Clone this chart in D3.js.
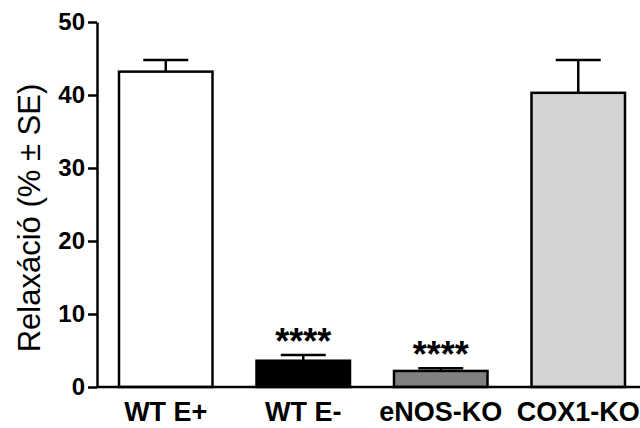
<!DOCTYPE html>
<html><head><meta charset="utf-8">
<script src="https://cdn.jsdelivr.net/npm/d3@7"></script>
<style>body{margin:0;background:#fff}svg{display:block}</style>
</head><body>
<svg id="c" width="640" height="428"></svg>
<script>
const categories = ["WT E+", "WT E-", "eNOS-KO", "COX1-KO"];
const means = [43.2, 3.6, 2.2, 40.3];
const errors = [1.6, 0.8, 0.37, 4.5];
const significance = ["", "****", "****", ""];
const fills = ["#ffffff", "#000000", "#808080", "#d3d3d3"];
const yTicks = [0, 10, 20, 30, 40, 50];
const yTitle = "Relaxáció (% ± SE)";

const svg = d3.select("#c");
const font = "'Liberation Sans', Arial, sans-serif";
const y = d3.scaleLinear().domain([0, 50]).range([387, 22]);
const x = d3.scaleBand().domain(categories).range([97, 647]).paddingInner(0.32).paddingOuter(0.16);

// y axis
const yAxis = svg.append("g").attr("transform", "translate(97,0)")
  .call(d3.axisLeft(y).tickValues(yTicks).tickSize(9).tickSizeOuter(0).tickPadding(3));
yAxis.select(".domain").attr("stroke", "#000").attr("stroke-width", 2.5);
yAxis.selectAll(".tick line").attr("stroke", "#000").attr("stroke-width", 2.5);
yAxis.selectAll(".tick text").attr("font-family", font).attr("font-weight", "bold")
  .attr("font-size", 24).attr("fill", "#000");

// bars
const g = svg.append("g");
categories.forEach((c, i) => {
  const cx = x(c) + x.bandwidth() / 2;
  const top = y(means[i] + errors[i]);
  g.append("line").attr("x1", cx).attr("x2", cx).attr("y1", y(means[i])).attr("y2", top)
    .attr("stroke", "#000").attr("stroke-width", 2.5);
  g.append("line").attr("x1", cx - 22.5).attr("x2", cx + 22.5).attr("y1", top).attr("y2", top)
    .attr("stroke", "#000").attr("stroke-width", 2.5);
  g.append("rect").attr("x", x(c)).attr("width", x.bandwidth())
    .attr("y", y(means[i])).attr("height", y(0) - y(means[i]))
    .attr("fill", fills[i]).attr("stroke", "#000").attr("stroke-width", 2.5);
  if (significance[i]) {
    g.append("text").attr("x", cx).attr("y", top - 1)
      .attr("text-anchor", "middle").attr("font-family", font).attr("font-weight", "bold")
      .attr("font-size", 36).text(significance[i]);
  }
});

// x axis
const xAxis = svg.append("g").attr("transform", "translate(0,387)")
  .call(d3.axisBottom(x).tickSize(0));
xAxis.select(".domain").attr("d", "M97,0H640").attr("stroke", "#000").attr("stroke-width", 2.5);
xAxis.selectAll(".tick text").attr("font-family", font).attr("font-weight", "bold")
  .attr("font-size", 27).attr("fill", "#000").attr("dy", null).attr("y", 34);

// y title
svg.append("text").attr("transform", "translate(40,218) rotate(-90)")
  .attr("text-anchor", "middle").attr("font-family", font).attr("font-size", 31)
  .attr("fill", "#000").text(yTitle);
</script>
</body></html>
